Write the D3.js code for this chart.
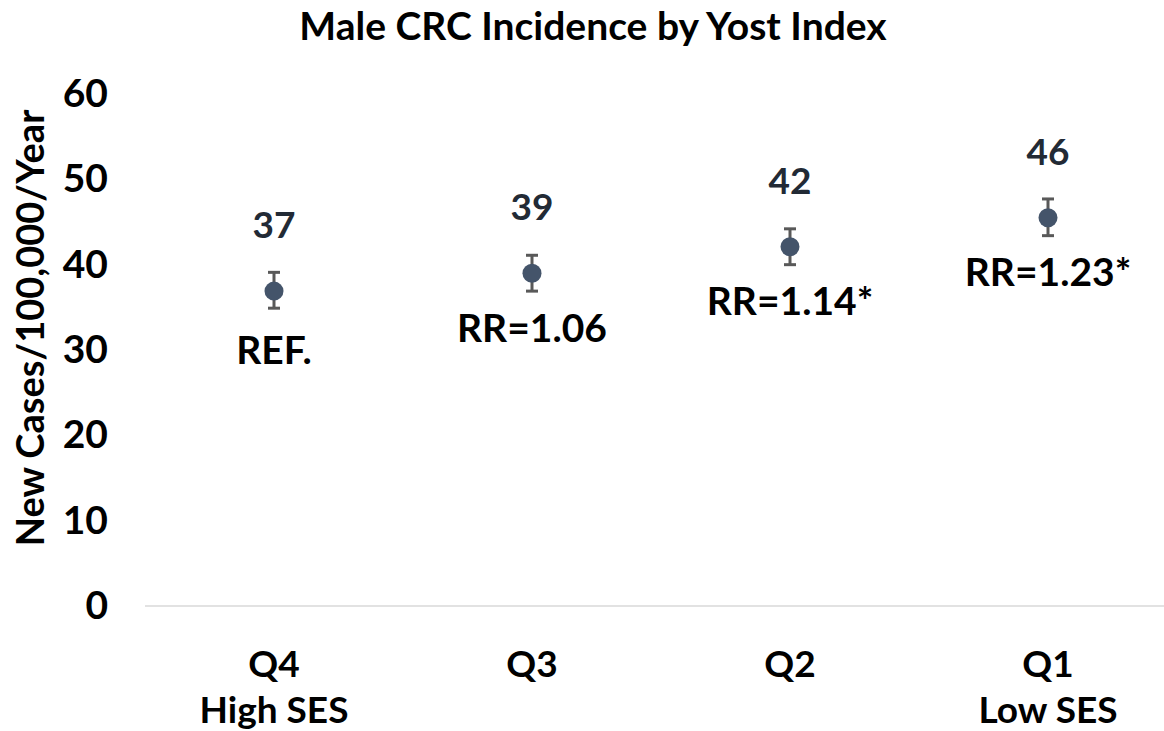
<!DOCTYPE html>
<html lang="en">
<head>
  <meta charset="UTF-8">
  <title>Male CRC Incidence by Yost Index</title>
  <script src="https://cdnjs.cloudflare.com/ajax/libs/d3/7.8.5/d3.min.js"></script>
  <style>
    body { margin: 0; background: #fff; }
    text { font-family: Lato, "Open Sans", sans-serif; font-weight: bold; }
  </style>
</head>
<body>
  <svg width="1164" height="731"></svg>
  <script>
    const categories = ["Q4|High SES", "Q3", "Q2", "Q1|Low SES"];
    const rates = [36.9, 39.0, 42.1, 45.5];
    const lower = [34.9, 36.9, 40.0, 43.4];
    const upper = [39.1, 41.1, 44.2, 47.7];
    const topLabels = ["37", "39", "42", "46"];
    const rrLabels = ["REF.", "RR=1.06", "RR=1.14*", "RR=1.23*"];
    const yTicks = [0, 10, 20, 30, 40, 50, 60];

    const svg = d3.select("svg");

    const x = d3.scaleBand()
      .domain(categories)
      .range([145, 1177])
      .padding(0);

    const y = d3.scaleLinear()
      .domain([0, 60])
      .range([606, 94]);

    const cx = d => x(d) + x.bandwidth() / 2;

    // title
    svg.append("text")
      .attr("x", 593)
      .attr("y", 40)
      .attr("text-anchor", "middle")
      .attr("font-size", 39)
      .attr("fill", "#000")
      .text("Male CRC Incidence by Yost Index");

    // y axis (labels only)
    const yAxis = svg.append("g")
      .attr("transform", "translate(145,0)")
      .call(d3.axisLeft(y).tickValues(yTicks).tickSize(0).tickPadding(37));
    yAxis.select(".domain").remove();
    yAxis.selectAll("text")
      .attr("font-size", 39)
      .attr("font-family", "Lato, sans-serif")
      .attr("font-weight", "bold")
      .attr("fill", "#000");

    svg.append("text")
      .attr("transform", "translate(44,328) rotate(-90)")
      .attr("text-anchor", "middle")
      .attr("font-size", 38)
      .attr("fill", "#000")
      .text("New Cases/100,000/Year");

    // baseline
    svg.append("line")
      .attr("x1", 145).attr("x2", 1177)
      .attr("y1", y(0)).attr("y2", y(0))
      .attr("stroke", "#d9d9d9")
      .attr("stroke-width", 1.5);

    // x labels
    const xl = svg.append("g").selectAll("text")
      .data(categories)
      .enter().append("text")
      .attr("x", d => cx(d))
      .attr("y", 677)
      .attr("text-anchor", "middle")
      .attr("font-size", 37)
      .attr("fill", "#000");
    xl.selectAll("tspan")
      .data(d => d.split("|").map(s => ({ s, c: d })))
      .enter().append("tspan")
      .attr("x", d => cx(d.c))
      .attr("dy", (d, i) => i === 0 ? 0 : 46)
      .text(d => d.s);

    // error bars
    const eb = svg.append("g").selectAll("g")
      .data(categories)
      .enter().append("g")
      .attr("stroke", "#595959")
      .attr("stroke-width", 3);
    eb.append("line")
      .attr("x1", d => cx(d)).attr("x2", d => cx(d))
      .attr("y1", (d, i) => y(lower[i])).attr("y2", (d, i) => y(upper[i]));
    eb.append("line")
      .attr("x1", d => cx(d) - 6).attr("x2", d => cx(d) + 6)
      .attr("y1", (d, i) => y(lower[i])).attr("y2", (d, i) => y(lower[i]));
    eb.append("line")
      .attr("x1", d => cx(d) - 6).attr("x2", d => cx(d) + 6)
      .attr("y1", (d, i) => y(upper[i])).attr("y2", (d, i) => y(upper[i]));

    // points
    svg.append("g").selectAll("circle")
      .data(categories)
      .enter().append("circle")
      .attr("cx", d => cx(d))
      .attr("cy", (d, i) => y(rates[i]))
      .attr("r", 9.5)
      .attr("fill", "#44546a");

    // value labels
    svg.append("g").selectAll("text")
      .data(categories)
      .enter().append("text")
      .attr("x", d => cx(d))
      .attr("y", (d, i) => y(rates[i]) - 66)
      .attr("dy", "0.35em")
      .attr("text-anchor", "middle")
      .attr("font-size", 37)
      .attr("fill", "#222a35")
      .text((d, i) => topLabels[i]);

    // RR labels
    svg.append("g").selectAll("text")
      .data(categories)
      .enter().append("text")
      .attr("x", d => cx(d))
      .attr("y", (d, i) => y(rates[i]) + (i === 0 ? 59 : 55))
      .attr("dy", "0.35em")
      .attr("text-anchor", "middle")
      .attr("font-size", 39)
      .attr("fill", "#000")
      .text((d, i) => rrLabels[i]);
  </script>
</body>
</html>
